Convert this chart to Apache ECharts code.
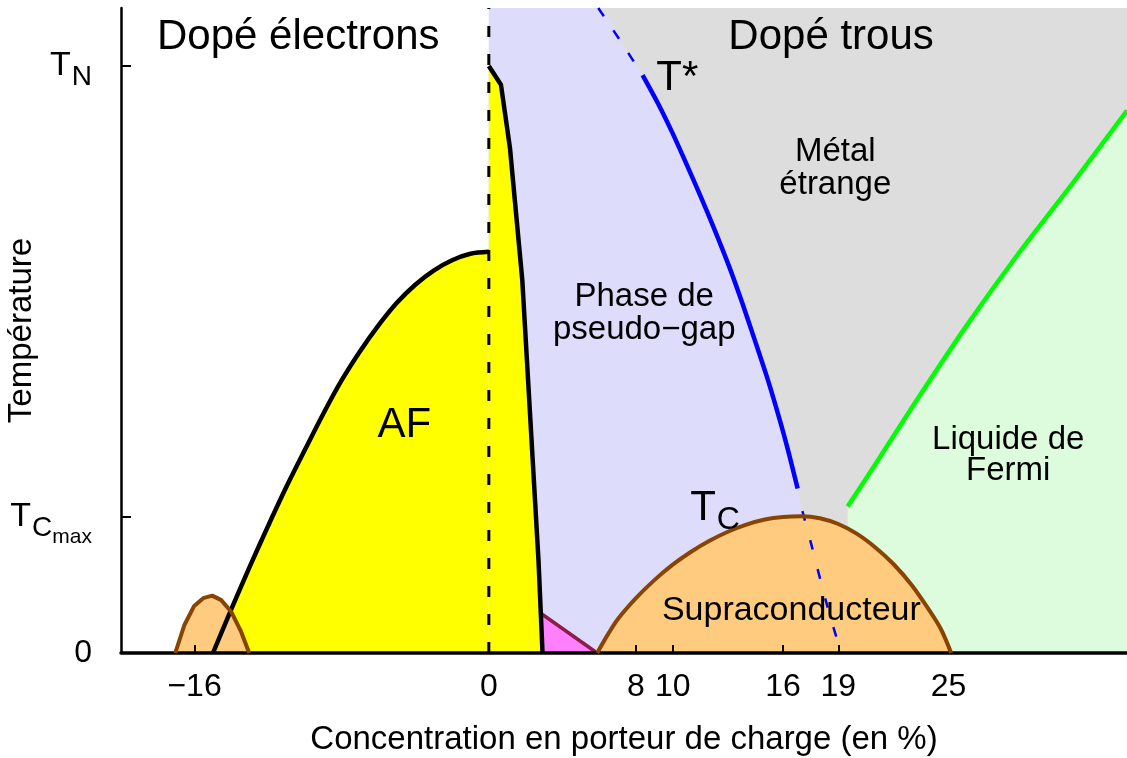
<!DOCTYPE html>
<html>
<head>
<meta charset="utf-8">
<style>html,body{margin:0;padding:0;background:#fff}#chart{width:1127px;height:758px}</style>
<script src="https://cdn.jsdelivr.net/npm/echarts@6/dist/echarts.min.js"></script>
</head>
<body>
<div id="chart"></div>
<script>
// concentration (%) on x, temperature (arbitrary units 0..100) on y
var xMin = -20, xMax = 34.7, yMax = 100;
var xTicks = [-16, 0, 8, 10, 16, 19, 25];
var yTicks = [0, 21.1, 91];
var yTickLabels = ['0', '{t|T}{c|C}{m|max}', '{t|T}{n|N}'];

// phase boundaries
var afElectron = [[-15,0],[-14,6.8],[-13,13.4],[-12,19.7],[-11,25.8],[-10,31.5],[-9,37.1],[-8,42.3],[-7,46.8],[-6,50.8],[-5,54.3],[-4,57.1],[-3,59.3],[-2,60.9],[-1,61.9],[0,62.2]];
var afHole = [[0,91.0],[0.66,88.1],[1.15,78.3],[1.82,57.8],[2.70,14.4],[2.92,0]];
var smallDome = [[-17.05,0],[-16.56,4.3],[-16.02,7.3],[-15.53,8.5],[-15.04,8.9],[-14.55,8.2],[-14.01,6.4],[-13.47,3.3],[-13.03,0]];
var tcDome = [[5.89,0],[6.5,3.0],[7,5.2],[8,8.5],[9,11.3],[10,13.7],[11,15.7],[12,17.4],[13,18.8],[14,19.9],[15,20.7],[16,21.1],[17,21.2],[18,20.9],[19,20.0],[20,18.5],[21,16.4],[22,13.8],[23,10.5],[24,6.4],[24.6,3.6],[25.14,0]];
var pinkEdge = [[2.9,6.0],[5.89,0]];
var tStarTop = [[5.95,100],[7.13,95.0],[8.36,89.6]];
var tStarMid = [[8.36,89.6],[9.2,85.2],[9.99,80.6],[10.7,76.1],[11.44,71.3],[12.25,65.8],[13.07,59.9],[13.8,54.1],[14.52,48.0],[15.1,43.0],[15.61,38.2],[16.2,32.2],[16.79,25.5]];
var tStarLow = [[17.05,22.0],[17.52,17.0],[18.40,7.3],[19.16,0]];
var fermiLine = [[19.51,22.7],[21.23,30.2],[23.22,39.0],[25.94,50.6],[28.66,61.4],[31.74,72.8],[34.7,84.1]];

var font = "'Liberation Sans', Arial, sans-serif";
var chart = echarts.init(document.getElementById('chart'));

function area(data, color, z, smooth) {
    return {type:'line', data:data, z:z, smooth:smooth || false, symbol:'none', silent:true,
        lineStyle:{width:0}, areaStyle:{color:color, opacity:1}};
}
function curve(data, color, width, z, smooth, dash) {
    return {type:'line', data:data, z:z, smooth:smooth || false, symbol:'none', silent:true,
        lineStyle:{color:color, width:width, type:dash || 'solid', cap:'butt'}};
}

var lavender = [[0,yMax]].concat(tStarTop, tStarMid.slice(1), tStarLow);
var rightBg = [[0,yMax],[xMax,yMax]];

var notes = [
    {name:'Dopé électrons', value:[-10.36,95.5], label:{fontSize:42}},
    {name:'Dopé trous', value:[18.61,95.5], label:{fontSize:42}},
    {name:'T*', value:[10.25,89.1], label:{fontSize:42}},
    {name:'Métal\nétrange', value:[18.84,75.2], label:{fontSize:33, lineHeight:33}},
    {name:'Phase de\npseudo\u2212gap', value:[8.45,52.7], label:{fontSize:33, lineHeight:33}},
    {name:'AF', value:[-4.6,35.3], label:{fontSize:42}},
    {name:'Liquide de\nFermi', value:[28.24,30.7], label:{fontSize:33, lineHeight:31}},
    {name:'{t|T}{c|C}', value:[12.3,22.4], label:{}},
    {name:'Supraconducteur', value:[16.45,6.5], label:{fontSize:34}}
];

var option = {
    animation:false,
    textStyle:{fontFamily:font},
    grid:{left:121, right:0, top:8, bottom:105, outerBoundsMode:'none'},
    xAxis:{
        type:'value', min:xMin, max:xMax, z:10,
        splitLine:{show:false},
        axisLine:{onZero:false, lineStyle:{color:'#000', width:3.5}},
        axisTick:{inside:true, length:8, customValues:xTicks, lineStyle:{color:'#000', width:2}},
        axisLabel:{customValues:xTicks, margin:18, fontSize:32, color:'#000',
            formatter:function(v){ return v < 0 ? '\u2212' + (-v) : String(v); }},
        name:'Concentration en porteur de charge (en %)', nameLocation:'middle', nameGap:70,
        nameMoveOverlap:false,
        nameTextStyle:{fontSize:33, color:'#000'}
    },
    yAxis:{
        type:'value', min:0, max:yMax, z:10,
        splitLine:{show:false},
        axisLine:{onZero:false, lineStyle:{color:'#000', width:2.5}},
        axisTick:{inside:true, length:10, customValues:yTicks, lineStyle:{color:'#000', width:2}},
        axisLabel:{customValues:yTicks, margin:29, fontSize:32, color:'#000',
            formatter:function(v){
                for (var i = 0; i < yTicks.length; i++) if (Math.abs(yTicks[i]-v) < 0.01) return yTickLabels[i];
                return '';
            },
            rich:{
                t:{fontSize:34, lineHeight:34, verticalAlign:'top', color:'#000'},
                n:{fontSize:28, lineHeight:28, padding:[14,0,0,1], verticalAlign:'top', color:'#000'},
                c:{fontSize:28, lineHeight:28, padding:[14,0,0,1], verticalAlign:'top', color:'#000'},
                m:{fontSize:21, lineHeight:21, padding:[27,0,0,0], verticalAlign:'top', color:'#000'}
            }},
        name:'Température', nameLocation:'middle', nameGap:83,
        nameMoveOverlap:false,
        nameTextStyle:{fontSize:33, color:'#000'}
    },
    series:[
        area(rightBg, '#dddddd', 1),
        area(fermiLine, '#ddfcdd', 2, 0.3),
        area(lavender, '#ddddfb', 3, 0.3),
        area(pinkEdge, '#ff80ff', 4),
        area(afElectron, '#ffff00', 5, 0.3),
        area(afHole, '#ffff00', 5),
        area(tcDome, '#fecb7f', 6, 0.3),
        area(smallDome, '#fecb7f', 6),
        curve([[0,0],[0,yMax]], '#000', 3, 7, false, [11,17]),
        curve(tStarTop, '#0000ff', 2.5, 8, 0.3, [10,17]),
        curve(tStarMid, '#0000ff', 4.5, 8, 0.3),
        curve(tStarLow, '#0000ff', 2.5, 8, 0.3, [10,20]),
        curve(fermiLine, '#00ff00', 4.5, 8, 0.3),
        curve(pinkEdge, '#8b1c4c', 3.5, 8),
        curve(afElectron, '#000', 4.5, 9, 0.3),
        curve(afHole, '#000', 4.5, 9),
        curve(tcDome, '#884400', 4, 10, 0.3),
        curve(smallDome, '#884400', 4, 10),
        {
            type:'scatter', z:12, silent:true, symbolSize:1,
            itemStyle:{color:'rgba(0,0,0,0)', opacity:1},
            data:notes,
            label:{show:true, position:'inside', formatter:'{b}', color:'#000', opacity:1,
                textBorderWidth:0, align:'center', fontFamily:font,
                rich:{
                    t:{fontSize:42, lineHeight:42, verticalAlign:'top', color:'#000'},
                    c:{fontSize:32, lineHeight:32, padding:[17,0,0,1], verticalAlign:'top', color:'#000'}
                }}
        }
    ]
};
chart.setOption(option);
</script>
</body>
</html>
